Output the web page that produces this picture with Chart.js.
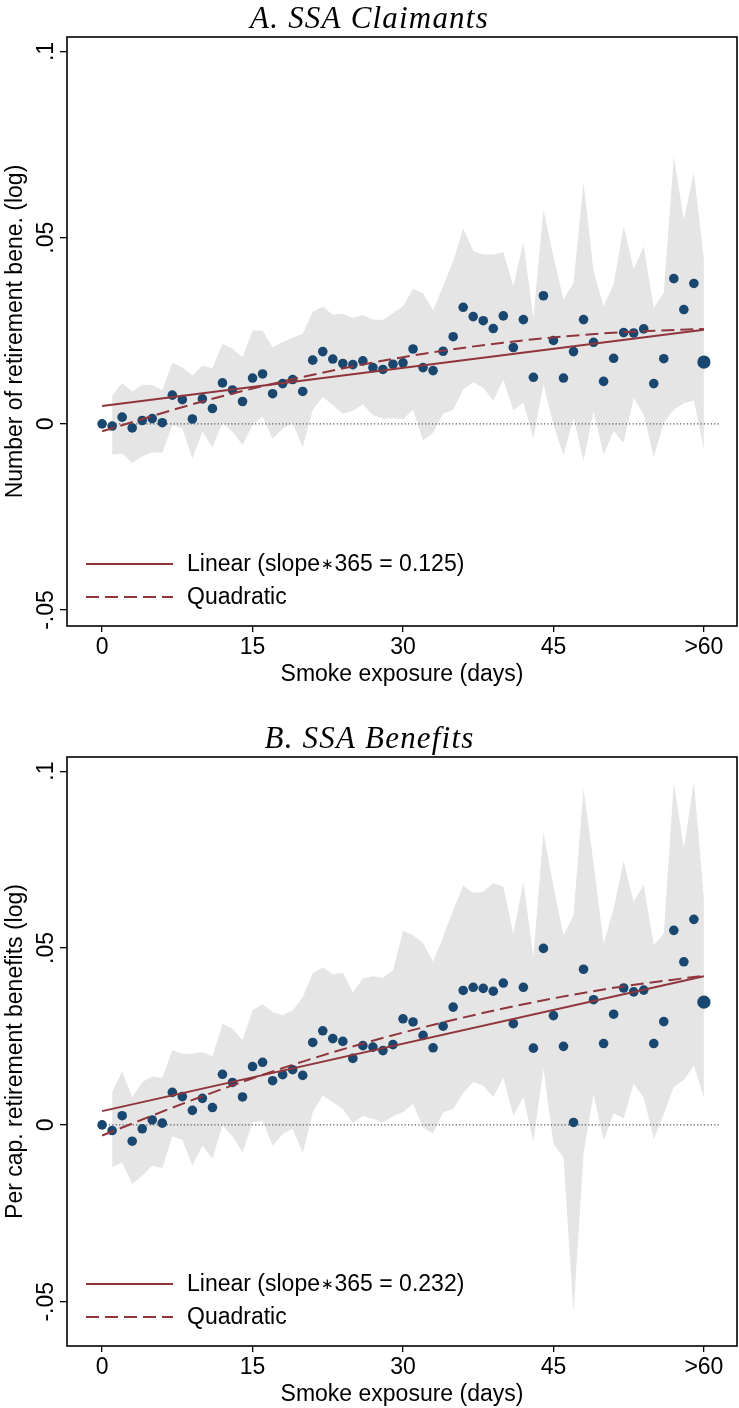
<!DOCTYPE html>
<html><head><meta charset="utf-8">
<script src="https://cdn.jsdelivr.net/npm/chart.js@4/dist/chart.umd.min.js"></script>
<style>
html,body{margin:0;padding:0;background:#fff;}
#wrap{position:relative;width:739px;height:1408px;background:#fff;}
.panel{position:absolute;left:0;width:739px;height:688px;}
</style></head><body>
<div id="wrap">
<div class="panel" style="top:0"><canvas id="cA" width="739" height="688"></canvas></div>
<div class="panel" style="top:720px"><canvas id="cB" width="739" height="688"></canvas></div>
</div>
<script>
// ---------- data ----------
const days = [0,1,2,3,4,5,6,7,8,9,10,11,12,13,14,15,16,17,18,19,20,21,22,23,24,25,26,27,28,29,30,31,32,33,34,35,36,37,38,39,40,41,42,43,44,45,46,47,48,49,50,51,52,53,54,55,56,57,58,59,60];
const bandDays = [1,2,3,4,5,6,7,8,9,10,11,12,13,14,15,16,17,18,19,20,21,22,23,24,25,26,27,28,29,30,31,32,33,34,35,36,37,38,39,40,41,42,43,44,45,46,47,48,49,50,51,52,53,54,55,56,57,58,59,60];
const xTickPos = [0, 15, 30, 45, 60];
const xTickLabels = ['0', '15', '30', '45', '>60'];
const yTickPos = [-0.05, 0, 0.05, 0.1];
const yTickLabels = ['-.05', '0', '.05', '.1'];

// Panel A: SSA claimants
const claimCoef = [0, -0.0006, 0.0018, -0.0011, 0.0009, 0.0014, 0.0003, 0.0077, 0.0065, 0.0013, 0.0067, 0.0041, 0.011, 0.0091, 0.006, 0.0123, 0.0134, 0.0081, 0.0108, 0.0119, 0.0087, 0.0171, 0.0194, 0.0174, 0.0162, 0.0159, 0.0169, 0.0151, 0.0146, 0.016, 0.0164, 0.0201, 0.0151, 0.0143, 0.0195, 0.0234, 0.0313, 0.0288, 0.0277, 0.0256, 0.029, 0.0205, 0.028, 0.0125, 0.0344, 0.0224, 0.0123, 0.0194, 0.028, 0.0219, 0.0114, 0.0176, 0.0245, 0.0244, 0.0255, 0.0108, 0.0175, 0.039, 0.0307, 0.0377, 0.0166];
const claimHi = [0.0076, 0.011, 0.0086, 0.0105, 0.0104, 0.009, 0.0164, 0.0151, 0.013, 0.0157, 0.0149, 0.0215, 0.0202, 0.0179, 0.0251, 0.0251, 0.0206, 0.0219, 0.0231, 0.0242, 0.0301, 0.0315, 0.0293, 0.0296, 0.0284, 0.0292, 0.028, 0.0279, 0.0298, 0.0316, 0.0363, 0.035, 0.0305, 0.037, 0.0437, 0.0525, 0.0464, 0.0455, 0.0455, 0.0461, 0.037, 0.0487, 0.0285, 0.0576, 0.045, 0.0334, 0.0379, 0.0648, 0.041, 0.0316, 0.0374, 0.0531, 0.0415, 0.0477, 0.0312, 0.0352, 0.0718, 0.0549, 0.0675, 0.0442];
const claimLo = [-0.0083, -0.008, -0.0105, -0.0087, -0.0076, -0.0078, -0.0004, -0.0012, -0.0093, -0.0021, -0.0063, 0.0003, -0.0021, -0.0057, -0.0004, 0.0019, -0.004, -0.0013, 0.0003, -0.0063, 0.0038, 0.0072, 0.005, 0.0027, 0.0035, 0.0052, 0.0023, 0.0014, 0.0015, 0.0012, 0.0038, -0.0045, -0.0024, 0.0027, 0.0038, 0.0092, 0.0112, 0.0097, 0.0063, 0.0119, 0.0036, 0.0058, -0.004, 0.0106, -0.0002, -0.0085, 0.0016, -0.01, 0.0034, -0.0083, -0.002, -0.0051, 0.007, 0.0025, -0.0089, 0.0003, 0.0038, 0.0055, 0.0063, -0.0069];
const claimLinX = [0, 60];
const claimLinY = [0.0048, 0.0253];
const claimQuadX = [0, 10, 20, 30, 40, 50, 60];
const claimQuadY = [-0.002, 0.006, 0.0126, 0.0179, 0.0218, 0.0243, 0.0255];

// Panel B: SSA benefits
const benCoef = [0, -0.0016, 0.0026, -0.0046, -0.0011, 0.0014, 0.0005, 0.0092, 0.008, 0.0041, 0.0075, 0.0049, 0.0143, 0.012, 0.0079, 0.0165, 0.0177, 0.0125, 0.0142, 0.0156, 0.014, 0.0233, 0.0266, 0.0244, 0.0236, 0.0188, 0.0224, 0.022, 0.021, 0.0227, 0.03, 0.0291, 0.0253, 0.0218, 0.0279, 0.0333, 0.038, 0.0389, 0.0386, 0.0378, 0.0401, 0.0286, 0.0389, 0.0217, 0.0499, 0.0309, 0.0222, 0.0007, 0.044, 0.0354, 0.023, 0.0313, 0.0387, 0.0376, 0.0381, 0.023, 0.0292, 0.055, 0.0461, 0.0581, 0.0347];
const benHi = [0.0092, 0.0151, 0.0078, 0.0121, 0.0137, 0.0133, 0.0212, 0.0201, 0.0201, 0.0206, 0.0194, 0.0286, 0.0272, 0.0239, 0.0324, 0.0341, 0.0319, 0.031, 0.0324, 0.0361, 0.0428, 0.0446, 0.0425, 0.043, 0.0374, 0.0414, 0.042, 0.0416, 0.0437, 0.0548, 0.0536, 0.0514, 0.0461, 0.0531, 0.0607, 0.0677, 0.0656, 0.0659, 0.0684, 0.0673, 0.0541, 0.0687, 0.0475, 0.0829, 0.0673, 0.0536, 0.0593, 0.0952, 0.0739, 0.0513, 0.0612, 0.0746, 0.0631, 0.0678, 0.0508, 0.0541, 0.0968, 0.0782, 0.097, 0.064];
const benLo = [-0.012, -0.0106, -0.0167, -0.0144, -0.0115, -0.0122, -0.0032, -0.0043, -0.0115, -0.0059, -0.0095, -0.0002, -0.0032, -0.0078, 0.0007, 0.0012, -0.0059, -0.0026, -0.0011, -0.008, 0.0036, 0.0083, 0.0064, 0.0045, 0.0005, 0.0026, 0.0017, 0.0007, 0.0025, 0.0036, 0.006, -0.0007, -0.0024, 0.0036, 0.0045, 0.009, 0.0121, 0.0111, 0.0078, 0.0133, 0.0026, 0.0078, -0.0046, 0.0159, -0.0054, -0.0092, -0.0531, -0.008, 0.0086, -0.0044, 0.0033, 0.0019, 0.0116, 0.0078, -0.004, 0.0031, 0.0107, 0.0127, 0.0168, 0.0078];
const benLinX = [0, 60];
const benLinY = [0.0039, 0.042];
const benQuadX = [0, 10, 20, 30, 40, 50, 60];
const benQuadY = [-0.003, 0.0081, 0.0179, 0.0261, 0.0329, 0.0383, 0.0422];

const zeroLineX = [0, 61.7];
const zeroLineY = [0, 0];

// ---------- styles ----------
const NAVY = '#1a476f';
const MAROON = '#90353b';
const BAND = '#e5e5e5';
const SANS = "'Liberation Sans', Arial, Helvetica, sans-serif";
const SERIF = "'Liberation Serif', 'Times New Roman', serif";
const FS = 23;
const DASH = [13, 6];

function pts(xs, ys) { return xs.map((x, i) => ({x: x, y: ys[i]})); }

// draws text, rendering the "∗" operator smaller and centred like the original
function drawLegendText(ctx, text, x, y) {
  const parts = text.split('\u2217');
  let cx = x;
  parts.forEach((p, i) => {
    ctx.font = FS + 'px ' + SANS;
    ctx.fillText(p, cx, y);
    cx += ctx.measureText(p).width;
    if (i < parts.length - 1) {
      ctx.font = '15px ' + "'DejaVu Sans', sans-serif";
      ctx.fillText('\u2217', cx + 1, y);
      cx += ctx.measureText('\u2217').width + 2;
    }
  });
  ctx.font = FS + 'px ' + SANS;
}

const framePlugin = {
  id: 'frameAndExtras',
  afterDatasetsDraw(chart, args, opts) {
    const {ctx, chartArea: a} = chart;
    ctx.save();
    // title
    ctx.fillStyle = '#000';
    ctx.font = 'italic 31px ' + SERIF;
    ctx.textAlign = 'center';
    ctx.textBaseline = 'alphabetic';
    if ('letterSpacing' in ctx) ctx.letterSpacing = '1.2px';
    ctx.fillText(opts.title, chart.width / 2, 28);
    if ('letterSpacing' in ctx) ctx.letterSpacing = '0px';
    // legend
    const rows = opts.legend;
    ctx.textBaseline = 'middle';
    ctx.textAlign = 'left';
    rows.forEach((r, i) => {
      const y = a.bottom - 62 + i * 33;
      ctx.beginPath();
      ctx.strokeStyle = MAROON;
      ctx.lineWidth = 2;
      ctx.setLineDash(r.dash);
      ctx.moveTo(86, y); ctx.lineTo(173, y);
      ctx.stroke();
      ctx.setLineDash([]);
      drawLegendText(ctx, r.text, 187, y + 1);
    });
    // frame
    ctx.strokeStyle = '#000';
    ctx.lineWidth = 1.6;
    ctx.strokeRect(a.left, a.top, a.right - a.left, a.bottom - a.top);
    // rotated y tick labels
    const ys = chart.scales.y;
    ctx.font = FS + 'px ' + SANS;
    ctx.textAlign = 'center';
    ctx.textBaseline = 'middle';
    yTickPos.forEach((v, i) => {
      const py = ys.getPixelForValue(v);
      ctx.save();
      ctx.translate(47, py);
      ctx.rotate(-Math.PI / 2);
      ctx.fillText(yTickLabels[i], 0, 0);
      ctx.restore();
    });
    ctx.restore();
  }
};

function makePanel(id, cfg) {
  const lastIdx = days.length - 1;
  const scatterPts = pts(days.slice(0, lastIdx), cfg.coef.slice(0, lastIdx));
  const bigPt = pts(days.slice(lastIdx), cfg.coef.slice(lastIdx));
  return new Chart(document.getElementById(id), {
    type: 'line',
    data: {
      datasets: [
        {data: pts(bandDays, cfg.hi), fill: '+1', backgroundColor: BAND, borderWidth: 0, borderColor: BAND, pointRadius: 0, tension: 0, order: 10},
        {data: pts(bandDays, cfg.lo), fill: false, borderWidth: 0, borderColor: BAND, pointRadius: 0, tension: 0, order: 11},
        {data: pts(zeroLineX, zeroLineY), borderColor: '#555', borderWidth: 1.3, borderDash: [1.2, 2.2], pointRadius: 0, fill: false, order: 8},
        {data: scatterPts, showLine: false, pointRadius: 4.8, pointBackgroundColor: NAVY, pointBorderColor: NAVY, pointBorderWidth: 0, order: 4},
        {data: bigPt, showLine: false, pointRadius: 6.6, pointBackgroundColor: NAVY, pointBorderColor: NAVY, pointBorderWidth: 0, order: 3},
        {data: pts(cfg.linX, cfg.linY), borderColor: MAROON, borderWidth: 2, pointRadius: 0, fill: false, order: 2},
        {data: pts(cfg.quadX, cfg.quadY), borderColor: MAROON, borderWidth: 2, borderDash: DASH, pointRadius: 0, fill: false, cubicInterpolationMode: 'monotone', order: 1}
      ]
    },
    options: {
      responsive: false,
      animation: false,
      devicePixelRatio: 1,
      events: [],
      layout: {autoPadding: false, padding: {left: 0, right: 2, top: 37, bottom: 0}},
      plugins: {
        legend: {display: false},
        tooltip: {enabled: false},
        title: {display: false},
        frameAndExtras: {legend: cfg.legend, title: cfg.title}
      },
      scales: {
        x: {
          type: 'linear', position: 'bottom', min: -3.5, max: 63.3,
          afterBuildTicks: (s) => { s.ticks = xTickPos.map(v => ({value: v})); },
          afterFit: (s) => { s.height = 62; },
          ticks: {
            autoSkip: false, maxRotation: 0, minRotation: 0, padding: 2,
            color: '#000', font: {family: SANS, size: FS},
            callback: (v, i) => xTickLabels[i]
          },
          grid: {drawOnChartArea: false, drawTicks: true, tickLength: 6, color: '#000', lineWidth: 1.3},
          border: {display: false},
          title: {display: true, text: 'Smoke exposure (days)', color: '#000', font: {family: SANS, size: FS, lineHeight: 1.12}, padding: {top: 0, bottom: 0}}
        },
        y: {
          type: 'linear', position: 'left', min: cfg.ymin, max: cfg.ymax,
          afterBuildTicks: (s) => { s.ticks = yTickPos.map(v => ({value: v})); },
          afterFit: (s) => { s.width = 67; },
          ticks: {display: false},
          grid: {drawOnChartArea: false, drawTicks: true, tickLength: 7, color: '#000', lineWidth: 1.3},
          border: {display: false},
          title: {display: true, text: cfg.ytitle, color: '#000', font: {family: SANS, size: FS, lineHeight: 1.2}, padding: {top: 2, bottom: 0}}
        }
      }
    },
    plugins: [framePlugin]
  });
}

makePanel('cA', {
  title: 'A. SSA Claimants', ytitle: 'Number of retirement bene. (log)',
  coef: claimCoef, hi: claimHi, lo: claimLo,
  linX: claimLinX, linY: claimLinY, quadX: claimQuadX, quadY: claimQuadY,
  ymin: -0.0543, ymax: 0.1039,
  legend: [{text: 'Linear (slope\u2217365 = 0.125)', dash: []}, {text: 'Quadratic', dash: DASH}]
});
makePanel('cB', {
  title: 'B. SSA Benefits', ytitle: 'Per cap. retirement benefits (log)',
  coef: benCoef, hi: benHi, lo: benLo,
  linX: benLinX, linY: benLinY, quadX: benQuadX, quadY: benQuadY,
  ymin: -0.0625, ymax: 0.104,
  legend: [{text: 'Linear (slope\u2217365 = 0.232)', dash: []}, {text: 'Quadratic', dash: DASH}]
});
</script>
</body></html>
